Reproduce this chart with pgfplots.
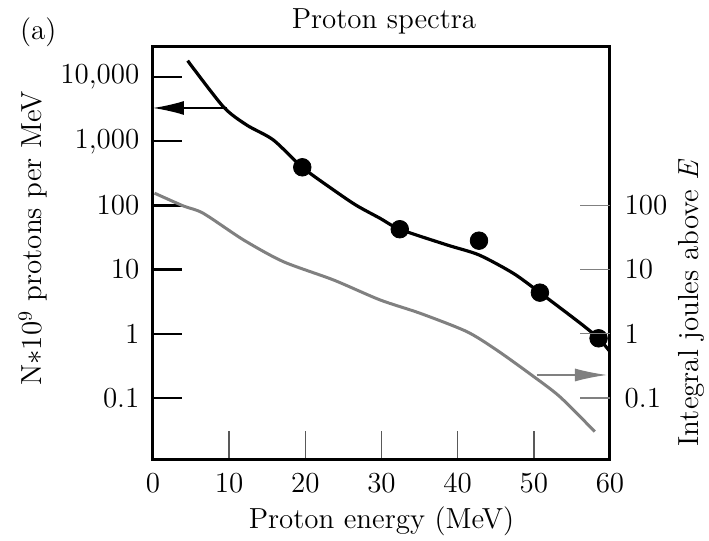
\documentclass[border=0pt]{standalone}
\usepackage{pgfplots}
\pgfplotsset{compat=1.18}
\usetikzlibrary{arrows.meta}
\definecolor{curvegray}{RGB}{128,128,128}
\begin{document}
\begin{tikzpicture}
\pgfplotsset{every axis/.append style={font=\fontsize{14.5}{17}\selectfont}}
\begin{axis}[
  scale only axis, width=228.5pt, height=207pt,
  xmin=0, xmax=60, ymode=log, ymin=0.0108, ymax=30400,
  axis line style={line width=1.5pt},
  major tick length=14.5pt,
  xtick={0,10,20,30,40,50,60},
  xtick pos=bottom, tick align=inside,
  x tick style={black!65, line width=0.8pt},
  xticklabel style={yshift=-3pt},
  ytick={0.1,1,10,100,1000,10000},
  yticklabels={0.1,1,10,100,{1,000},{10,000}},
  ytick pos=left, yminorticks=false,
  y tick style={black, line width=1.2pt},
  yticklabel style={xshift=-3.3pt},
  /pgf/number format/assume math mode=true,
  xlabel={Proton energy (MeV)},
  xlabel style={at={(axis description cs:0.5,0)}, anchor=base, yshift=-34.5pt},
  ylabel={N$*$10$^9$ protons per MeV},
  ylabel style={at={(axis description cs:-0.2429,0.535)}, anchor=base},
  clip mode=individual,
]
\addplot[black, line width=1.6pt, smooth, tension=0.45] coordinates {
(4.55,17950) (9.23,3444) (12.3,1786) (15.8,1045) (19.6,392) (23.7,174) (26.7,100) (29.8,63) (32.4,42.5) (38.6,24.2) (42.8,16.9) (47.3,8.75) (50.8,4.37) (56.1,1.46) (58.5,0.85) (60,0.526)
};
\addplot[curvegray, line width=1.5pt, smooth, tension=0.45] coordinates {
(0.2,155) (3.98,98) (6.6,75.3) (11.9,28.9) (17.1,13.3) (23.7,6.89) (29.8,3.37) (35.1,2.08) (41.2,1.08) (45.1,0.56) (49.5,0.237) (53.4,0.105) (58.0,0.0299)
};
\addplot[only marks, mark=*, mark size=4.4pt, black] coordinates {
(19.6,392) (32.4,42.5) (42.8,28.2) (50.8,4.37) (58.5,0.85)
};
\draw[black, line width=0.7pt, -{Latex[length=15.5pt,width=7pt]}] (axis cs:9.7,3290) -- (axis cs:0,3290);
\draw[curvegray, line width=0.7pt, -{Latex[length=16pt,width=6.5pt]}] (axis cs:50.4,0.228) -- (axis cs:59.6,0.228);
\node[anchor=base] at (axis description cs:0.5054,1.0411) {Proton spectra};
\node[anchor=base west] at (axis description cs:-0.3063,1.0169) {(a)};
\end{axis}
\begin{axis}[
  scale only axis, width=228.5pt, height=207pt,
  xmin=0, xmax=60, ymode=log, ymin=0.0108, ymax=30400,
  axis line style={draw=none},
  major tick length=15pt,
  xtick=\empty,
  ytick={0.1,1,10,100},
  yticklabels={0.1,1,10,100},
  ytick pos=right, yticklabel pos=right, tick align=inside, yminorticks=false,
  y tick style={curvegray, line width=0.7pt},
  yticklabel style={xshift=3.8pt},
  /pgf/number format/assume math mode=true,
  ylabel={Integral joules above \textit{E}},
  ylabel style={at={(axis description cs:1.1926,0.380)}, anchor=base, rotate=0},
]
\end{axis}
\pgfresetboundingbox
\path[use as bounding box] (-76.5pt,-40.5pt) rectangle (278pt,230pt);
\end{tikzpicture}
\end{document}
